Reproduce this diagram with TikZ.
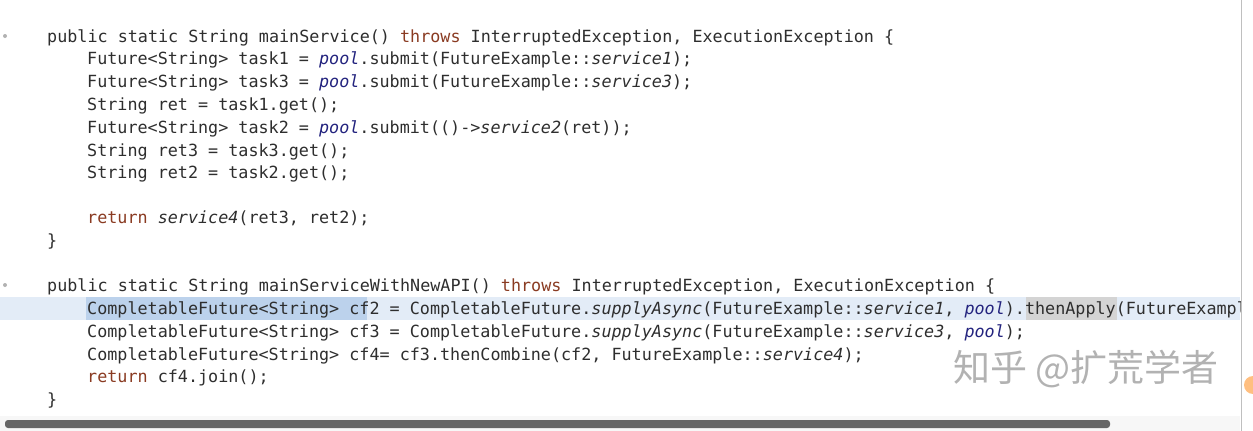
\documentclass[tikz,border=0pt]{standalone}
\usepackage{fontspec}
\setmonofont{DejaVu Sans Mono}
\newfontfamily\cjk{Noto Sans CJK SC}
\definecolor{kw}{HTML}{8A3B22}
\definecolor{fld}{HTML}{23237E}
\definecolor{txt}{HTML}{2E2E2E}
\definecolor{curline}{HTML}{E3ECF7}
\definecolor{sel}{HTML}{BCD2EC}
\newcommand{\kwd}[1]{\textcolor{kw}{#1}}
\newcommand{\fd}[1]{\textcolor{fld}{\itshape #1}}
\newcommand{\itl}[1]{{\itshape #1}}
\tikzset{
  code/.style={anchor=mid west, inner sep=0pt, font=\ttfamily\fontsize{16.75}{18}\selectfont, text=txt},
}
\begin{document}
\begin{tikzpicture}[x=1pt,y=-1pt]
	\useasboundingbox[fill=white] (0,0) rectangle (1253,431);
	% current line and selections
	\fill[curline] (0,297) rectangle (1240,320);
	\fill[sel] (86,297) rectangle (367,320);
	\fill[black!17] (1026,297) rectangle (1117,320);
	% left markers
	\fill[black!30] (5,36) circle (2);
	\fill[black!30] (5,285) circle (2);
\begin{scope}[yshift=-4pt]
	\clip (0,0) rectangle (1240,431);
	\node[code] (l1) at (47,36) {public static String mainService() \kwd{throws} InterruptedException, ExecutionException \{};
	\node[code] (l2) at (87,58) {Future<String> task1 = \fd{pool}.submit(FutureExample::\itl{service1});};
	\node[code] (l3) at (87,81) {Future<String> task3 = \fd{pool}.submit(FutureExample::\itl{service3});};
	\node[code] (l4) at (87,104) {String ret = task1.get();};
	\node[code] (l5) at (87,127) {Future<String> task2 = \fd{pool}.submit(()->\itl{service2}(ret));};
	\node[code] (l6) at (87,150) {String ret3 = task3.get();};
	\node[code] (l7) at (87,172) {String ret2 = task2.get();};
	\node[code] (l9) at (87,217) {\kwd{return} \itl{service4}(ret3, ret2);};
	\node[code] (l10) at (47,240) {\}};
	\node[code] (l12) at (47,285) {public static String mainServiceWithNewAPI() \kwd{throws} InterruptedException, ExecutionException \{};
	\node[code] (l13) at (87,308) {CompletableFuture<String> cf2 = CompletableFuture.\itl{supplyAsync}(FutureExample::\itl{service1}, \fd{pool}).thenApply(FutureExample::\itl{service2});};
	\node[code] (l14) at (87,331) {CompletableFuture<String> cf3 = CompletableFuture.\itl{supplyAsync}(FutureExample::\itl{service3}, \fd{pool});};
	\node[code] (l15) at (87,354) {CompletableFuture<String> cf4= cf3.thenCombine(cf2, FutureExample::\itl{service4});};
	\node[code] (l16) at (87,376) {\kwd{return} cf4.join();};
	\node[code] (l17) at (47,399) {\}};
\end{scope}
	% watermark
	\node[anchor=mid west, inner sep=0pt, text=black!30, font=\cjk\fontsize{37}{39}\selectfont] (wm) at (953,379) {知乎 @扩荒学者};
	% right edge and scrollbar
	\draw[black!25] (1241,0) -- (1241,431);
	\fill[orange!50] (1253,385) circle (9);
	\fill[black!3] (0,416) rectangle (1240,431);
	\fill[black!60, rounded corners=3] (5,420) rectangle (1110,428);
\end{tikzpicture}
\end{document}
